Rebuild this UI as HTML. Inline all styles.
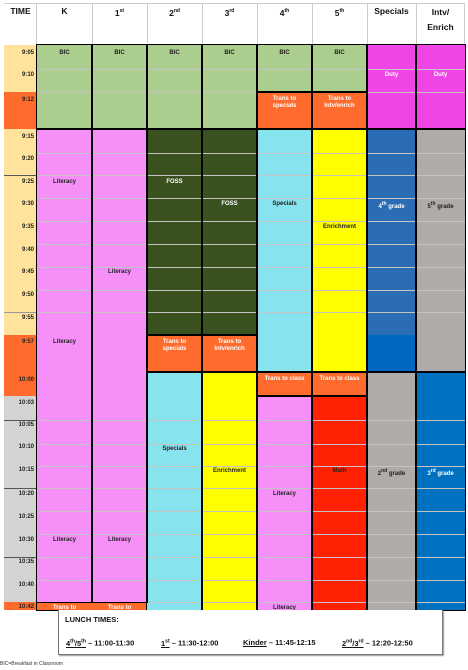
<!DOCTYPE html>
<html><head><meta charset="utf-8"><style>
body{margin:0;width:468px;height:670px;overflow:hidden;background:#fff;font-family:"Liberation Sans",sans-serif;position:relative}
div{position:absolute;box-sizing:border-box}
.o{border:1.5px solid #000;background:transparent}
.g{height:1px;background:#c4c4c4;left:37px;width:428px}
.l{font-size:6px;font-weight:bold;text-align:center;line-height:7px;color:#222}
.w{color:#fff}
.t{font-size:6px;font-weight:bold;text-align:right;left:4px;width:30px;color:#222}
.h{font-size:8.5px;font-weight:bold;text-align:center;top:6px;color:#111;line-height:11px}
sup{font-size:5px}
</style></head><body>
<!-- header -->
<div style="left:4px;top:3px;width:461px;height:42px;border-top:1px solid #ccc;border-right:1px solid #ccc"></div>
<div style="left:36px;top:3px;width:1px;height:42px;background:#ccc"></div>
<div style="left:92px;top:3px;width:1px;height:42px;background:#ccc"></div>
<div style="left:147px;top:3px;width:1px;height:42px;background:#ccc"></div>
<div style="left:202px;top:3px;width:1px;height:42px;background:#ccc"></div>
<div style="left:257px;top:3px;width:1px;height:42px;background:#ccc"></div>
<div style="left:312px;top:3px;width:1px;height:42px;background:#ccc"></div>
<div style="left:367px;top:3px;width:1px;height:42px;background:#ccc"></div>
<div style="left:416px;top:3px;width:1px;height:42px;background:#ccc"></div>
<div class="h" style="left:4px;width:33px">TIME</div>
<div class="h" style="left:37px;width:55px">K</div>
<div class="h" style="left:92px;width:55px">1<sup>st</sup></div>
<div class="h" style="left:147px;width:55px">2<sup>nd</sup></div>
<div class="h" style="left:202px;width:55px">3<sup>rd</sup></div>
<div class="h" style="left:257px;width:55px">4<sup>th</sup></div>
<div class="h" style="left:312px;width:55px">5<sup>th</sup></div>
<div class="h" style="left:367px;width:49px">Specials</div>
<div class="h" style="left:416px;width:49px;top:5px;line-height:15px">Intv/<br>Enrich</div>

<!-- time column -->
<div style="left:4px;top:45px;width:33px;height:47px;background:#FFE29C"></div>
<div style="left:4px;top:92px;width:33px;height:37px;background:#FF6B2C"></div>
<div style="left:4px;top:129px;width:33px;height:206px;background:#FFE29C"></div>
<div style="left:4px;top:335px;width:33px;height:61px;background:#FF6B2C"></div>
<div style="left:4px;top:396px;width:33px;height:206px;background:#D3D3D3"></div>
<div style="left:4px;top:602px;width:33px;height:8px;background:#FF6B2C"></div>

<!-- fills -->
<div style="left:37px;top:45px;width:110px;height:84px;background:#ABCD8D"></div>
<div style="left:37px;top:129px;width:110px;height:473px;background:#F690F8"></div>
<div style="left:37px;top:602px;width:110px;height:8px;background:#FF6B2C"></div>
<div style="left:147px;top:45px;width:110px;height:84px;background:#ABCD8D"></div>
<div style="left:147px;top:129px;width:110px;height:206px;background:#3A5120"></div>
<div style="left:147px;top:335px;width:110px;height:37px;background:#FF6B2C"></div>
<div style="left:147px;top:372px;width:55px;height:238px;background:#87E3EE"></div>
<div style="left:202px;top:372px;width:55px;height:238px;background:#FFFF00"></div>
<div style="left:257px;top:45px;width:110px;height:47px;background:#ABCD8D"></div>
<div style="left:257px;top:92px;width:110px;height:37px;background:#FF6B2C"></div>
<div style="left:257px;top:129px;width:55px;height:243px;background:#87E3EE"></div>
<div style="left:312px;top:129px;width:55px;height:243px;background:#FFFF00"></div>
<div style="left:257px;top:372px;width:110px;height:24px;background:#FF6B2C"></div>
<div style="left:257px;top:396px;width:55px;height:214px;background:#F690F8"></div>
<div style="left:312px;top:396px;width:55px;height:214px;background:#FF2200"></div>
<div style="left:367px;top:45px;width:98px;height:84px;background:#EF45E6"></div>
<div style="left:367px;top:129px;width:49px;height:206px;background:#2B6DB4"></div>
<div style="left:367px;top:335px;width:49px;height:37px;background:#0068C0"></div>
<div style="left:367px;top:372px;width:49px;height:238px;background:#AEABA9"></div>
<div style="left:416px;top:129px;width:49px;height:243px;background:#AEABA9"></div>
<div style="left:416px;top:372px;width:49px;height:238px;background:#0070C0"></div>

<!-- gray row lines -->
<div class="g" style="top:69px"></div><div class="g" style="top:92px"></div>
<div class="g" style="top:153px"></div><div class="g" style="top:175px"></div>
<div class="g" style="top:198px"></div><div class="g" style="top:221px"></div>
<div class="g" style="top:244px"></div><div class="g" style="top:267px"></div>
<div class="g" style="top:290px"></div><div class="g" style="top:312px"></div>
<div class="g" style="top:420px"></div><div class="g" style="top:444px"></div>
<div class="g" style="top:466px"></div><div class="g" style="top:488px"></div>
<div class="g" style="top:511px"></div><div class="g" style="top:534px"></div>
<div class="g" style="top:557px"></div><div class="g" style="top:580px"></div>
<div class="g" style="top:602px"></div>
<div style="left:4px;top:175px;width:33px;height:1px;background:#555"></div>
<div style="left:4px;top:312px;width:33px;height:1px;background:#999"></div>
<div style="left:4px;top:420px;width:33px;height:1px;background:#555"></div>
<div style="left:4px;top:488px;width:33px;height:1px;background:#555"></div>
<div style="left:4px;top:557px;width:33px;height:1px;background:#555"></div>

<!-- outlines -->
<div class="o" style="left:36px;top:44px;width:430px;height:567px;border-width:1.5px"></div>
<div class="o" style="left:36px;top:44px;width:57px;height:86px"></div>
<div class="o" style="left:36px;top:128px;width:57px;height:475px"></div>
<div class="o" style="left:91px;top:44px;width:57px;height:86px"></div>
<div class="o" style="left:91px;top:128px;width:57px;height:475px"></div>
<div class="o" style="left:146px;top:44px;width:57px;height:86px"></div>
<div class="o" style="left:146px;top:128px;width:57px;height:208px"></div>
<div class="o" style="left:146px;top:334px;width:57px;height:39px"></div>
<div class="o" style="left:146px;top:371px;width:57px;height:240px"></div>
<div class="o" style="left:201px;top:44px;width:57px;height:86px"></div>
<div class="o" style="left:201px;top:128px;width:57px;height:208px"></div>
<div class="o" style="left:201px;top:334px;width:57px;height:39px"></div>
<div class="o" style="left:201px;top:371px;width:57px;height:240px"></div>
<div class="o" style="left:256px;top:44px;width:57px;height:49px"></div>
<div class="o" style="left:256px;top:91px;width:57px;height:39px"></div>
<div class="o" style="left:256px;top:128px;width:57px;height:245px"></div>
<div class="o" style="left:256px;top:371px;width:57px;height:26px"></div>
<div class="o" style="left:256px;top:395px;width:57px;height:216px"></div>
<div class="o" style="left:311px;top:44px;width:57px;height:49px"></div>
<div class="o" style="left:311px;top:91px;width:57px;height:39px"></div>
<div class="o" style="left:311px;top:128px;width:57px;height:245px"></div>
<div class="o" style="left:311px;top:371px;width:57px;height:26px"></div>
<div class="o" style="left:311px;top:395px;width:57px;height:216px"></div>
<div class="o" style="left:366px;top:44px;width:51px;height:86px"></div>
<div class="o" style="left:366px;top:128px;width:51px;height:245px"></div>
<div class="o" style="left:366px;top:371px;width:51px;height:240px"></div>
<div class="o" style="left:415px;top:44px;width:51px;height:86px"></div>
<div class="o" style="left:415px;top:128px;width:51px;height:245px"></div>
<div class="o" style="left:415px;top:371px;width:51px;height:240px"></div>

<!-- time labels -->
<div class="t" style="top:50px">9:05</div><div class="t" style="top:72px">9:10</div>
<div class="t" style="top:97px">9:12</div><div class="t" style="top:134px">9:15</div>
<div class="t" style="top:156px">9:20</div><div class="t" style="top:179px">9:25</div>
<div class="t" style="top:201px">9:30</div><div class="t" style="top:224px">9:35</div>
<div class="t" style="top:247px">9:40</div><div class="t" style="top:269px">9:45</div>
<div class="t" style="top:292px">9:50</div><div class="t" style="top:315px">9:55</div>
<div class="t" style="top:339px">9:57</div><div class="t" style="top:377px">10:00</div>
<div class="t" style="top:400px">10:03</div><div class="t" style="top:422px">10:05</div>
<div class="t" style="top:444px">10:10</div><div class="t" style="top:467px">10:15</div>
<div class="t" style="top:491px">10:20</div><div class="t" style="top:514px">10:25</div>
<div class="t" style="top:537px">10:30</div><div class="t" style="top:559px">10:35</div>
<div class="t" style="top:582px">10:40</div><div class="t" style="top:604px">10:42</div>

<!-- cell labels -->
<div class="l" style="left:37px;width:55px;top:50px">BIC</div>
<div class="l" style="left:92px;width:55px;top:50px">BIC</div>
<div class="l" style="left:147px;width:55px;top:50px">BIC</div>
<div class="l" style="left:202px;width:55px;top:50px">BIC</div>
<div class="l" style="left:257px;width:55px;top:50px">BIC</div>
<div class="l" style="left:312px;width:55px;top:50px">BIC</div>
<div class="l w" style="left:367px;width:49px;top:72px">Duty</div>
<div class="l w" style="left:416px;width:49px;top:72px">Duty</div>
<div class="l w" style="left:257px;width:55px;top:96px">Trans to<br>specials</div>
<div class="l w" style="left:312px;width:55px;top:96px">Trans to<br>Intv/enrich</div>
<div class="l" style="left:37px;width:55px;top:179px">Literacy</div>
<div class="l w" style="left:147px;width:55px;top:179px">FOSS</div>
<div class="l w" style="left:202px;width:55px;top:201px">FOSS</div>
<div class="l" style="left:257px;width:55px;top:201px">Specials</div>
<div class="l" style="left:312px;width:55px;top:224px">Enrichment</div>
<div class="l w" style="left:367px;width:49px;top:201px">4<sup>th</sup> grade</div>
<div class="l" style="left:416px;width:49px;top:201px">5<sup>th</sup> grade</div>
<div class="l" style="left:92px;width:55px;top:269px">Literacy</div>
<div class="l" style="left:37px;width:55px;top:339px">Literacy</div>
<div class="l w" style="left:147px;width:55px;top:339px">Trans to<br>specials</div>
<div class="l w" style="left:202px;width:55px;top:339px">Trans to<br>Intv/enrich</div>
<div class="l w" style="left:257px;width:55px;top:376px">Trans to class</div>
<div class="l w" style="left:312px;width:55px;top:376px">Trans to class</div>
<div class="l" style="left:147px;width:55px;top:446px">Specials</div>
<div class="l" style="left:202px;width:55px;top:468px">Enrichment</div>
<div class="l" style="left:312px;width:55px;top:468px">Math</div>
<div class="l" style="left:367px;width:49px;top:468px">2<sup>nd</sup> grade</div>
<div class="l w" style="left:416px;width:49px;top:468px">3<sup>rd</sup> grade</div>
<div class="l" style="left:257px;width:55px;top:491px">Literacy</div>
<div class="l" style="left:37px;width:55px;top:537px">Literacy</div>
<div class="l" style="left:92px;width:55px;top:537px">Literacy</div>
<div class="l w" style="left:37px;width:55px;top:605px">Trans to</div>
<div class="l w" style="left:92px;width:55px;top:605px">Trans to</div>
<div class="l" style="left:257px;width:55px;top:605px">Literacy</div>

<!-- lunch box -->
<div style="left:58px;top:610px;width:385px;height:45px;background:#fff;border:1px solid #777;border-top:none;box-shadow:1px 1px 1px #999"></div>
<div style="left:65px;top:615px;font-size:7.5px;font-weight:bold;color:#111">LUNCH TIMES:</div>
<div style="left:66px;top:638px;font-size:7.5px;font-weight:bold;color:#111;white-space:nowrap"><u>4<sup>th</sup>/5<sup>th</sup></u> – 11:00-11:30</div>
<div style="left:161px;top:638px;font-size:7.5px;font-weight:bold;color:#111;white-space:nowrap"><u>1<sup>st</sup></u> – 11:30-12:00</div>
<div style="left:243px;top:638px;font-size:7.5px;font-weight:bold;color:#111;white-space:nowrap"><u>Kinder</u> – 11:45-12:15</div>
<div style="left:342px;top:638px;font-size:7.5px;font-weight:bold;color:#111;white-space:nowrap"><u>2<sup>nd</sup>/3<sup>rd</sup></u> – 12:20-12:50</div>
<div style="left:0px;top:661px;font-size:5px;color:#333;white-space:nowrap">BIC=Breakfast in Classroom</div>
</body></html>
